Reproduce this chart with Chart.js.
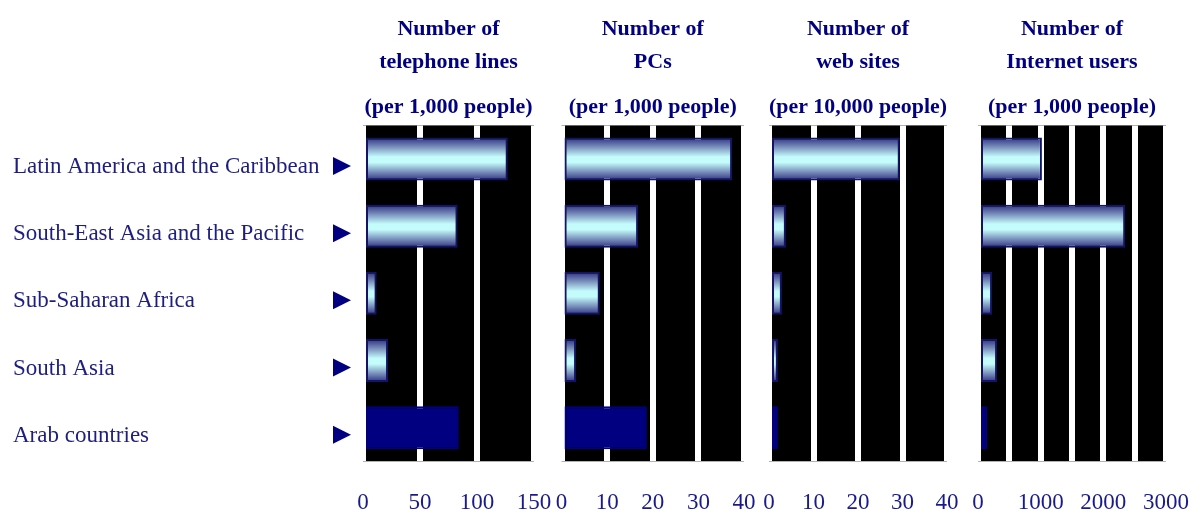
<!DOCTYPE html>
<html>
<head>
<meta charset="utf-8">
<script src="https://cdn.jsdelivr.net/npm/chart.js@4.4.1/dist/chart.umd.min.js"></script>
<style>
  body { margin: 0; background: #fff; width: 1191px; height: 513px; position: relative; overflow: hidden; }
  canvas { position: absolute; top: 0; }
</style>
</head>
<body>
<canvas id="phones" width="556" height="513" style="left:0px"></canvas>
<canvas id="pcs" width="220" height="513" style="left:540px"></canvas>
<canvas id="webs" width="220" height="513" style="left:750px"></canvas>
<canvas id="users" width="235" height="513" style="left:956px"></canvas>
<script>
const regions = [
    'Latin America and the Caribbean',
    'South-East Asia and the Pacific',
    'Sub-Saharan Africa',
    'South Asia',
    'Arab countries'
]
const telephoneLines = [127, 83, 12, 22, 84]
const pcs = [37.4, 16.8, 8.4, 3.2, 18.7]
const webSites = [29.4, 3.8, 2.9, 2.0, 2.0]
const internetUsers = [1020, 2350, 225, 305, 145]

const phoneTicks = [0, 50, 100, 150]
const pcTicks = [0, 10, 20, 30, 40]
const webTicks = [0, 10, 20, 30, 40]
const userTicks = [0, 1000, 2000, 3000]

const highlightRegion = 'Arab countries'
const navy = '#000080'
const serif = 'Liberation Serif'


const barFill = (ctx) => {
    const chart = ctx.chart
    if (ctx.type !== 'data' || !chart.chartArea) return '#c4ffff'
    if (regions[ctx.dataIndex] === highlightRegion) return navy
    const yScale = chart.scales.y
    const y = yScale.getPixelForValue(ctx.dataIndex)
    const half = yScale.height / regions.length * 0.64 / 2
    const g = chart.ctx.createLinearGradient(0, y - half, 0, y + half)
    g.addColorStop(0, '#2c3080')
    g.addColorStop(0.2, '#7286b6')
    g.addColorStop(0.45, '#c4fcfc')
    g.addColorStop(0.58, '#c4fcfc')
    g.addColorStop(0.82, '#7286b6')
    g.addColorStop(1, '#2c3080')
    return g
}

// black plot area, white grid lines on top of it
const blackPanel = {
    id: 'blackPanel',
    beforeDraw(chart) {
        const { ctx, chartArea } = chart
        ctx.save()
        ctx.fillStyle = '#000'
        ctx.fillRect(chartArea.left, chartArea.top, chartArea.width, chartArea.height)
        ctx.restore()
    }
}

// little navy arrows in front of the region names
const arrows = {
    id: 'arrows',
    afterDraw(chart) {
        const { ctx } = chart
        const yScale = chart.scales.y
        ctx.save()
        ctx.fillStyle = navy
        regions.forEach((r, i) => {
            const y = yScale.getPixelForValue(i) + 7
            ctx.beginPath()
            ctx.moveTo(333, y - 9)
            ctx.lineTo(351, y)
            ctx.lineTo(333, y + 9)
            ctx.closePath()
            ctx.fill()
        })
        ctx.restore()
    }
}


const makeChart = (id, values, ticks, step, title, subtitle, pad, withLabels) => {
    const config = {
        type: 'bar',
        data: {
            labels: regions,
            datasets: [{
                data: values,
                backgroundColor: barFill,
                borderColor: (ctx) => regions[ctx.dataIndex] === highlightRegion ? navy : '#141466',
                borderWidth: 2,
                borderSkipped: false,
                barPercentage: 0.64,
                categoryPercentage: 1
            }]
        },
        options: {
            indexAxis: 'y',
            responsive: false,
            animation: false,
            layout: { padding: { left: pad[0], right: pad[1], top: 0, bottom: 0 } },
            plugins: {
                legend: { display: false },
                tooltip: { enabled: false },
                title: {
                    display: true,
                    text: title,
                    color: navy,
                    fullSize: false,
                    font: { family: serif, size: 22, weight: 'bold', lineHeight: 1.5 },
                    padding: { top: 13, bottom: 0 }
                },
                subtitle: {
                    display: true,
                    text: subtitle,
                    color: navy,
                    fullSize: false,
                    font: { family: serif, size: 22, weight: 'bold', lineHeight: 1.2 },
                    padding: { top: 15, bottom: 5 }
                }
            },
            scales: {
                x: {
                    min: ticks[0],
                    max: ticks[ticks.length - 1],
                    grid: {
                        color: '#fff',
                        lineWidth: 6,
                        drawTicks: true,
                        tickLength: 31,
                        tickColor: 'rgba(0,0,0,0)'
                    },
                    border: { display: false },
                    ticks: {
                        stepSize: step,
                        autoSkip: false,
                        maxRotation: 0,
                        padding: 0,
                        color: '#1a1a8a',
                        font: { family: serif, size: 23, lineHeight: 0.9 },
                        callback: (v) => ticks.includes(v) ? String(v) : ''
                    }
                },
                y: {
                    display: withLabels,
                    grid: { display: false },
                    border: { display: false },
                    afterFit: (scale) => { if (withLabels) scale.width = 350 },
                    ticks: {
                        crossAlign: 'far',
                        labelOffset: 8,
                        color: '#1e1e80',
                        font: { family: serif, size: 23 }
                    }
                }
            }
        },
        plugins: withLabels ? [blackPanel, arrows] : [blackPanel]
    }
    return new Chart(document.getElementById(id), config)
}


makeChart('phones', telephoneLines, phoneTicks, 50,
    ['Number of', 'telephone lines'], '(per 1,000 people)', [13, 22], true)
makeChart('pcs', pcs, pcTicks, 10,
    ['Number of', 'PCs'], '(per 1,000 people)', [21.5, 16], false)
makeChart('webs', webSites, webTicks, 10,
    ['Number of', 'web sites'], '(per 10,000 people)', [19, 23], false)
makeChart('users', internetUsers, userTicks, 500,
    ['Number of', 'Internet users'], '(per 1,000 people)', [22, 25], false)
</script>
</body>
</html>
